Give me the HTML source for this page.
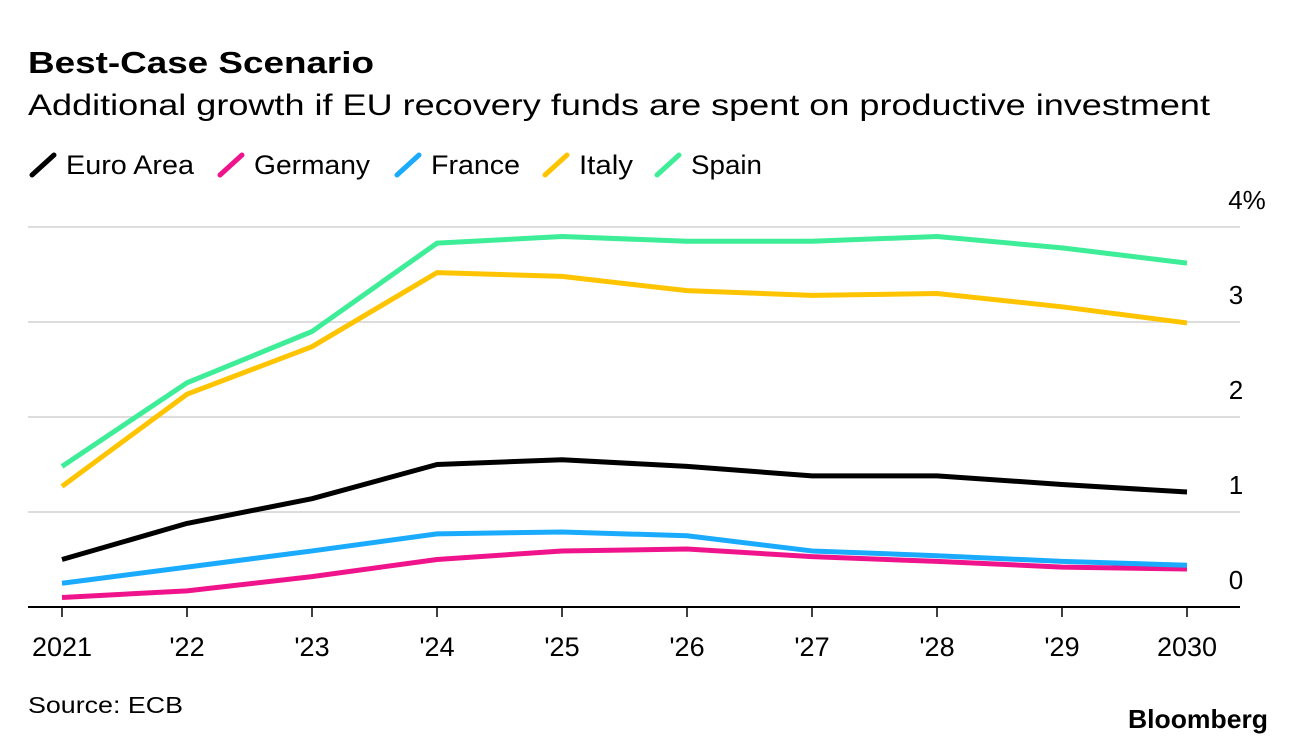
<!DOCTYPE html>
<html><head><meta charset="utf-8"><style>
body{margin:0;background:#fff;width:1296px;height:744px;overflow:hidden;font-family:"Liberation Sans",Arial,sans-serif;}
</style></head><body>
<svg id="c" width="1296" height="744" xmlns="http://www.w3.org/2000/svg">
<text x="28" y="73" font-size="31" font-weight="bold" fill="#000" textLength="346" lengthAdjust="spacingAndGlyphs">Best-Case Scenario</text>
<text x="28" y="115" font-size="30" fill="#000" textLength="1182" lengthAdjust="spacingAndGlyphs">Additional growth if EU recovery funds are spent on productive investment</text>
<g id="legend"></g>
<g id="grid"></g>
<g id="lines"></g>
<g id="xt"></g>
<text x="28" y="713" font-size="23" fill="#000" textLength="155" lengthAdjust="spacingAndGlyphs">Source: ECB</text>
<text x="1128" y="728" font-size="26" font-weight="bold" fill="#000" textLength="140" lengthAdjust="spacingAndGlyphs">Bloomberg</text>
</svg>
<script>
const categories=["2021","'22","'23","'24","'25","'26","'27","'28","'29","2030"];
const yTicks=[0,1,2,3,4];
const yTickLabels=["0","1","2","3","4%"];
const seriesNames=["Euro Area","Germany","France","Italy","Spain"];
const seriesColors=["#000000","#f0148c","#1aabff","#ffc400","#3ded97"];
const euroArea=[0.5,0.88,1.14,1.5,1.55,1.48,1.38,1.38,1.29,1.21];
const germany=[0.1,0.17,0.32,0.5,0.59,0.61,0.53,0.48,0.42,0.4];
const france=[0.25,0.42,0.59,0.77,0.79,0.75,0.59,0.54,0.48,0.44];
const italy=[1.27,2.24,2.74,3.52,3.48,3.33,3.28,3.3,3.16,2.99];
const spain=[1.48,2.36,2.9,3.83,3.9,3.85,3.85,3.9,3.78,3.62];
const seriesData=[euroArea,germany,france,italy,spain];
const NS="http://www.w3.org/2000/svg";
const x=i=>62+i*125;
const y=v=>607-v*95;
function mk(t,a,p){const e=document.createElementNS(NS,t);for(const k in a)e.setAttribute(k,a[k]);p.appendChild(e);return e;}
const grid=document.getElementById('grid');
yTicks.forEach((v,i)=>{
  const l=mk('line',{x1:28,x2:1240,y1:y(v),y2:y(v),stroke:v===0?'#000':'#ddd','stroke-width':2},grid);
  
  
  const t=mk('text',{x:1236,y:y(v)-18,'font-size':26,'text-anchor':'middle',fill:'#000'},grid);
  if(v===4)t.setAttribute('x',1247);
  t.textContent=yTickLabels[i];
  
  
});
const xt=document.getElementById('xt');
categories.forEach((c,i)=>{
  const tk=mk('line',{x1:x(i),x2:x(i),y1:607,y2:617,stroke:'#000','stroke-width':1.5},xt);
  
  
  const t=mk('text',{x:x(i),y:656,'font-size':27,'text-anchor':'middle',fill:'#000'},xt);
  t.textContent=c;
  
  
});
const lines=document.getElementById('lines');
seriesData.forEach((d,s)=>{
  const p=mk('polyline',{points:d.map((v,i)=>x(i)+','+y(v)).join(' '),fill:'none',stroke:seriesColors[s],'stroke-width':5,'stroke-linejoin':'round'},lines);
  
  
});
const leg=document.getElementById('legend');
const legX=[30,218,395,543,655];
const legW=[128,116,89,54,71];
seriesNames.forEach((n,s)=>{
  const g=mk('g',{},leg);
  
  
  mk('line',{x1:legX[s]+2,y1:175,x2:legX[s]+24,y2:155,stroke:seriesColors[s],'stroke-width':5,'stroke-linecap':'round'},g);
  const t=mk('text',{x:legX[s]+36,y:174,'font-size':27,fill:'#000',textLength:legW[s],lengthAdjust:'spacingAndGlyphs'},g);
  t.textContent=n;
});
</script>
</body></html>
